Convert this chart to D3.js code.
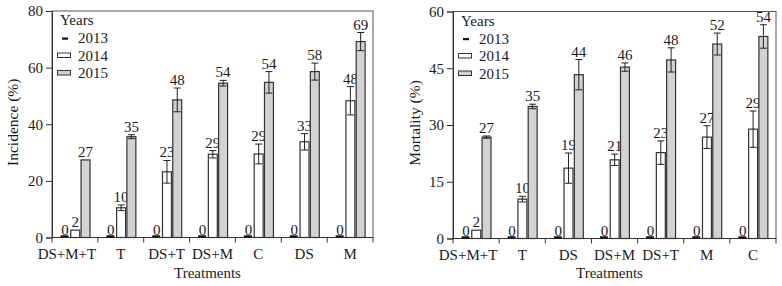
<!DOCTYPE html>
<html>
<head>
<meta charset="utf-8">
<script src="https://cdn.jsdelivr.net/npm/d3@7"></script>
<style>
  html, body { margin: 0; padding: 0; background: #fff; }
  svg { display: block; }
</style>
</head>
<body>
<svg id="chart" width="782" height="286"></svg>
<script>
// ---------- DATA ----------
const years = ["2013", "2014", "2015"];

const incCategories = ["DS+M+T", "T", "DS+T", "DS+M", "C", "DS", "M"];
const inc2013 = [0, 0, 0, 0, 0, 0, 0];
const inc2014 = [2.6, 10.5, 23.2, 29.4, 29.5, 33.8, 48.3];
const inc2015 = [27.4, 35.6, 48.6, 54.5, 54.8, 58.6, 69.2];
const inc2014Err = [0, 1, 4, 1.3, 3.5, 2.9, 5];
const inc2015Err = [0, 0.7, 4.2, 1, 3.8, 3, 3.2];
const inc2013Labels = ["0", "0", "0", "0", "0", "0", "0"];
const inc2014Labels = ["2", "10", "23", "29", "29", "33", "48"];
const inc2015Labels = ["27", "35", "48", "54", "54", "58", "69"];
const incTicks = [0, 20, 40, 60, 80];

const morCategories = ["DS+M+T", "T", "DS", "DS+M", "DS+T", "M", "C"];
const mor2013 = [0, 0, 0, 0, 0, 0, 0];
const mor2014 = [2.2, 10.4, 18.6, 20.8, 22.7, 26.8, 28.9];
const mor2015 = [26.8, 34.9, 43.3, 45.3, 47.2, 51.4, 53.4];
const mor2014Err = [0, 0.75, 4, 1.5, 3.1, 3, 4.8];
const mor2015Err = [0.3, 0.6, 4, 1.1, 3.2, 2.9, 3.1];
const mor2013Labels = ["0", "0", "0", "0", "0", "0", "0"];
const mor2014Labels = ["2", "10", "19", "21", "23", "27", "29"];
const mor2015Labels = ["27", "35", "44", "46", "48", "52", "54"];
const morTicks = [0, 15, 30, 45, 60];

// ---------- DRAW ----------
const FONT = "'Liberation Serif', 'Times New Roman', serif";
const svg = d3.select("#chart");
const fillColors = { "2013": "#111", "2014": "#ffffff", "2015": "#d2d2d2" };
const strokeCol = "#333";
const txtCol = "#1a1a1a";

function label(sel, size) {
  return sel.style("font-family", FONT).style("font-size", size + "px").style("fill", txtCol);
}

function drawPanel(opt) {
  const { left, right, top, bottom, cats, s13, s14, s15, e14, e15, l13, l14, l15, ticks, ymax, ylabel, ylabelX } = opt;
  const g = svg.append("g");
  const x = d3.scaleBand().domain(cats).range([left, right]).padding(0);
  const inner = d3.scaleBand().domain(years).range([8.5, 38]).paddingInner(0.13).paddingOuter(0);
  const y = d3.scaleLinear().domain([0, ymax]).range([bottom, top]);

  // frame
  g.append("rect").attr("x", left).attr("y", top).attr("width", right - left).attr("height", bottom - top)
    .attr("fill", "none").attr("stroke", "#555").attr("stroke-width", 1);

  // y axis
  const ya = g.append("g").attr("transform", `translate(${left},0)`)
    .call(d3.axisLeft(y).tickValues(ticks).tickSize(6).tickPadding(3).tickFormat(d3.format("d")));
  ya.attr("font-family", null).attr("font-size", null);
  ya.select(".domain").attr("stroke", "#333");
  ya.selectAll(".tick line").attr("stroke", "#333");
  label(ya.selectAll("text"), 15);

  // x axis: ticks at category boundaries
  const bounds = cats.map(c => x(c)).concat([right]);
  g.selectAll(".xt").data(bounds).enter().append("line")
    .attr("x1", d => d).attr("x2", d => d).attr("y1", bottom).attr("y2", bottom + 5)
    .attr("stroke", "#333");
  g.append("line").attr("x1", left).attr("x2", right).attr("y1", bottom).attr("y2", bottom).attr("stroke", "#333");
  label(g.selectAll(".xl").data(cats).enter().append("text")
    .attr("x", (d, i) => x(d) + x.bandwidth() / 2 + (i === 0 ? -8 : 0))
    .attr("y", bottom + 21)
    .attr("text-anchor", "middle")
    .text(d => d), 15);

  // axis titles
  label(g.append("text").attr("x", (left + right) / 2 - 5).attr("y", 278).attr("text-anchor", "middle")
    .text("Treatments"), 15);
  label(g.append("text").attr("transform", `translate(${ylabelX},${(top + bottom) / 2 - 2}) rotate(-90)`)
    .attr("text-anchor", "middle").text(ylabel), 15.5);

  const series = [
    { yr: "2013", vals: s13, errs: s13.map(() => 0), labels: l13 },
    { yr: "2014", vals: s14, errs: e14, labels: l14 },
    { yr: "2015", vals: s15, errs: e15, labels: l15 }
  ];

  series.forEach(s => {
    const sg = g.append("g");
    cats.forEach((c, i) => {
      const bx = x(c) + inner(s.yr);
      const bw = inner.bandwidth();
      const v = s.vals[i];
      if (s.yr === "2013") {
        sg.append("rect").attr("x", bx).attr("y", y(v) - 2.2).attr("width", bw - 1).attr("height", 2.2)
          .attr("fill", "#111");
      } else {
        sg.append("rect").attr("x", bx).attr("y", y(v)).attr("width", bw).attr("height", y(0) - y(v))
          .attr("fill", fillColors[s.yr]).attr("stroke", strokeCol).attr("stroke-width", 1.2);
      }
      const e = s.errs[i];
      const cx = bx + bw / 2;
      if (e > 0) {
        sg.append("line").attr("x1", cx).attr("x2", cx).attr("y1", y(v - e)).attr("y2", y(v + e))
          .attr("stroke", "#222").attr("stroke-width", 1);
        [v - e, v + e].forEach(t => {
          sg.append("line").attr("x1", cx - 3.5).attr("x2", cx + 3.5).attr("y1", y(t)).attr("y2", y(t))
            .attr("stroke", "#222").attr("stroke-width", 1);
        });
      }
      label(sg.append("text").attr("x", cx).attr("y", y(v + e) - 3).attr("text-anchor", "middle")
        .text(s.labels[i]), 15);
    });
  });

  // legend
  const lg = g.append("g").attr("transform", `translate(${left},${top})`);
  label(lg.append("text").attr("x", 8).attr("y", 14).text("Years"), 15);
  years.forEach((yr, i) => {
    const yy = 32 + i * 17.5;
    if (yr === "2013") {
      lg.append("rect").attr("x", 10).attr("y", yy - 5.5).attr("width", 6).attr("height", 2.2).attr("fill", "#111");
    } else {
      lg.append("rect").attr("x", 5.5).attr("y", yy - 7.5).attr("width", 13).attr("height", 4.5)
        .attr("fill", fillColors[yr]).attr("stroke", strokeCol).attr("stroke-width", 1);
    }
    label(lg.append("text").attr("x", 26).attr("y", yy).text(yr), 15);
  });
}

drawPanel({
  left: 52, right: 373, top: 11, bottom: 237.5,
  cats: incCategories, s13: inc2013, s14: inc2014, s15: inc2015, e14: inc2014Err, e15: inc2015Err,
  l13: inc2013Labels, l14: inc2014Labels, l15: inc2015Labels,
  ticks: incTicks, ymax: 80, ylabel: "Incidence (%)", ylabelX: 18
});
drawPanel({
  left: 453, right: 776, top: 11.5, bottom: 238.5,
  cats: morCategories, s13: mor2013, s14: mor2014, s15: mor2015, e14: mor2014Err, e15: mor2015Err,
  l13: mor2013Labels, l14: mor2014Labels, l15: mor2015Labels,
  ticks: morTicks, ymax: 60, ylabel: "Mortality (%)", ylabelX: 420
});
</script>
</body>
</html>
